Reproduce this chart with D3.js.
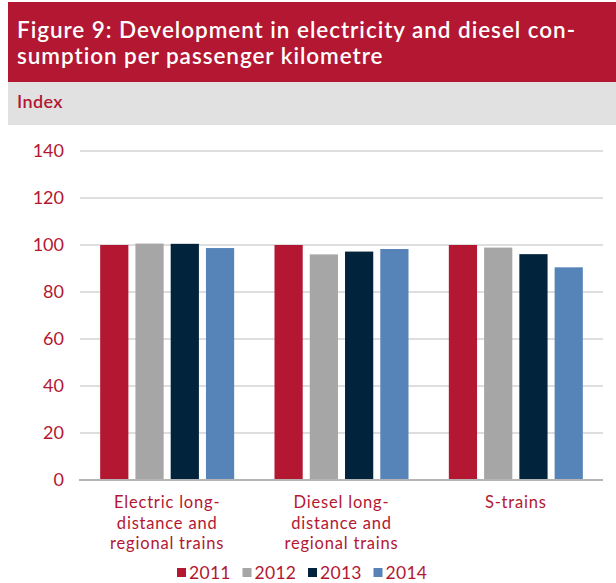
<!DOCTYPE html>
<html>
<head>
<meta charset="utf-8">
<script src="https://cdn.jsdelivr.net/npm/d3@7"></script>
<style>
  html, body { margin: 0; padding: 0; background: #fff; }
  svg { display: block; }
</style>
</head>
<body>
<div id="chart"></div>
<script>
// Index of energy use per passenger km, 2011 = 100
const categories = [
  ["Electric long-", "distance and", "regional trains"],
  ["Diesel long-", "distance and", "regional trains"],
  ["S-trains"]
];
const years = ["2011", "2012", "2013", "2014"];
const v2011 = [100, 100, 100];
const v2012 = [100.6, 96.0, 98.9];
const v2013 = [100.5, 97.2, 96.1];
const v2014 = [98.7, 98.3, 90.5];
const yTicks = [0, 20, 40, 60, 80, 100, 120, 140];
const colors = ["#b31731", "#a6a6a6", "#01233b", "#5683b8"];

const series = [v2011, v2012, v2013, v2014];
const W = 616, H = 583;
const font = "Lato, 'Open Sans', sans-serif";
const red = "#b31731";

const svg = d3.select("#chart").append("svg").attr("width", W).attr("height", H);

// Header band
svg.append("rect").attr("x", 8).attr("y", 2).attr("width", W - 8).attr("height", 80).attr("fill", red);
svg.append("rect").attr("x", 8).attr("y", 82).attr("width", W - 8).attr("height", 43).attr("fill", "#e1e1e1");

const title = svg.append("text").attr("fill", "#fff").attr("font-family", font)
  .attr("font-size", 22.5).attr("font-weight", 600).attr("letter-spacing", 0.95);
title.append("tspan").attr("x", 17).attr("y", 38).text("Figure 9: Development in electricity and diesel con-");
title.append("tspan").attr("x", 17).attr("y", 64).text("sumption per passenger kilometre");

svg.append("text").attr("x", 17).attr("y", 108).attr("fill", red).attr("font-family", font)
  .attr("font-size", 18).attr("font-weight", 600).attr("letter-spacing", 0.4).text("Index");

// Plot area
const x0 = 80, x1 = 603;
const y = d3.scaleLinear().domain([0, 140]).range([480, 151]);
const xBand = d3.scaleBand().domain(d3.range(categories.length)).range([x0, x1]);
const groupW = 134;
const inner = d3.scaleBand().domain(d3.range(years.length)).range([0, groupW]).paddingInner(0.2);
const innerOffset = (xBand.bandwidth() - groupW) / 2;

// Gridlines
svg.append("g").selectAll("line").data(yTicks.filter(t => t > 0)).join("line")
  .attr("x1", x0).attr("x2", x1)
  .attr("y1", d => y(d)).attr("y2", d => y(d))
  .attr("stroke", "#dedede").attr("stroke-width", 2);

// Y labels
svg.append("g").selectAll("text").data(yTicks).join("text")
  .attr("x", 64).attr("y", d => y(d) + 6)
  .attr("text-anchor", "end").attr("fill", red)
  .attr("font-family", font).attr("font-size", 18).text(d => d);

// Bars
const groups = svg.append("g").selectAll("g").data(categories).join("g")
  .attr("transform", (d, i) => `translate(${xBand(i) + innerOffset},0)`);
groups.selectAll("rect").data((d, i) => series.map((s, k) => ({ k, v: s[i] }))).join("rect")
  .attr("x", d => inner(d.k))
  .attr("width", inner.bandwidth())
  .attr("y", d => y(d.v))
  .attr("height", d => y(0) - y(d.v))
  .attr("fill", d => colors[d.k]);

// Zero axis
svg.append("line").attr("x1", x0 - 1).attr("x2", x1).attr("y1", y(0)).attr("y2", y(0))
  .attr("stroke", "#b5b5b5").attr("stroke-width", 2);

// Category labels
const labels = svg.append("g").selectAll("text").data(categories).join("text")
  .attr("text-anchor", "middle").attr("fill", red)
  .attr("font-family", font).attr("font-size", 16.5).attr("letter-spacing", 0.8);
labels.each(function (lines, i) {
  const t = d3.select(this);
  lines.forEach((ln, j) => {
    t.append("tspan").attr("x", xBand(i) + xBand.bandwidth() / 2).attr("y", 508 + j * 20.5).text(ln);
  });
});

// Legend
const leg = svg.append("g").selectAll("g").data(years).join("g")
  .attr("transform", (d, i) => `translate(${177 + i * 65.5},0)`);
leg.append("rect").attr("x", 0).attr("y", 568).attr("width", 9).attr("height", 9)
  .attr("fill", (d, i) => colors[i]);
leg.append("text").attr("x", 12).attr("y", 579).attr("fill", red)
  .attr("font-family", font).attr("font-size", 17.5).attr("letter-spacing", 0.3).text(d => d);
</script>
</body>
</html>
